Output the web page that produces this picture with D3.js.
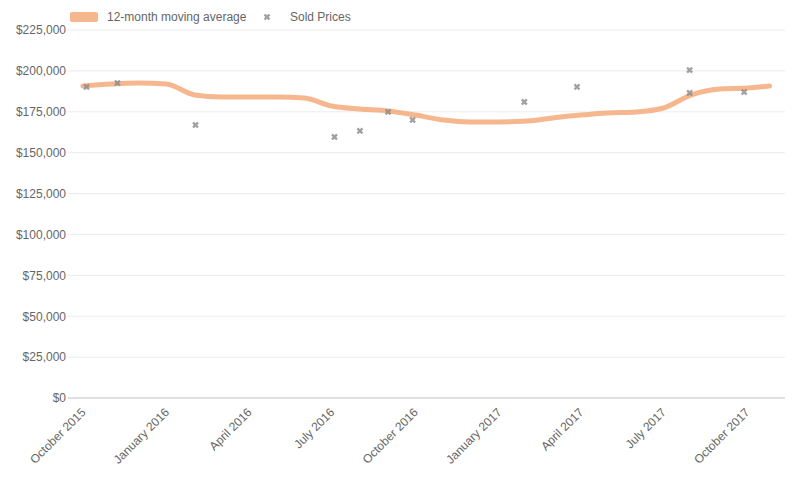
<!DOCTYPE html>
<html>
<head>
<meta charset="utf-8">
<script src="https://cdn.jsdelivr.net/npm/d3@7"></script>
<style>
  html, body { margin: 0; padding: 0; background: #fff; }
  svg { display: block; font-family: "Liberation Sans", Arial, sans-serif; }
</style>
</head>
<body>
<svg id="chart" width="804" height="502"></svg>
<script>
// ---- data ----
const avgDates = ["2015-10-01","2015-11-01","2015-12-01","2016-01-01","2016-02-01","2016-03-01","2016-04-01","2016-05-01","2016-06-01","2016-07-01","2016-08-01","2016-09-01","2016-10-01","2016-11-01","2016-12-01","2017-01-01","2017-02-01","2017-03-01","2017-04-01","2017-05-01","2017-06-01","2017-07-01","2017-08-01","2017-09-01","2017-10-01","2017-10-26"];
const avgValues = [190800,192000,192600,192000,185300,184100,184100,184100,183400,178500,176700,175500,173000,170000,168800,168800,169400,171200,173000,174300,174900,177300,185300,188900,189500,190800];
const saleDates = ["2015-10-05","2015-11-08","2016-02-02","2016-07-04","2016-08-01","2016-09-01","2016-09-28","2017-01-29","2017-03-28","2017-07-30","2017-07-30","2017-09-28"];
const saleValues = [190200,192600,166900,159600,163300,174900,170000,181000,190200,200500,186500,187100];
const yTicks = [0,25000,50000,75000,100000,125000,150000,175000,200000,225000];
const xTickDates = ["2015-10-01","2016-01-01","2016-04-01","2016-07-01","2016-10-01","2017-01-01","2017-04-01","2017-07-01","2017-10-01"];
const xTickLabels = ["October 2015","January 2016","April 2016","July 2016","October 2016","January 2017","April 2017","July 2017","October 2017"];
const xDomain = ["2015-09-08","2017-11-12"];
const seriesNames = ["12-month moving average","Sold Prices"];

// ---- chart ----
const parse = d3.utcParse("%Y-%m-%d");
const svg = d3.select("#chart");
const margin = {top: 30, right: 19, bottom: 104, left: 62};
const W = 804, H = 502;

const x = d3.scaleUtc().domain(xDomain.map(parse)).range([margin.left, W - margin.right]);
const y = d3.scaleLinear().domain([0, 225000]).range([H - margin.bottom, margin.top]);

// grid
svg.append("g").selectAll("line").data(yTicks).join("line")
  .attr("x1", margin.left + 6).attr("x2", W - margin.right)
  .attr("y1", d => y(d)).attr("y2", d => y(d))
  .attr("stroke", d => d === 0 ? "#d6d6d6" : "#ececec")
  .attr("stroke-width", d => d === 0 ? 1.5 : 1);

// y axis labels
const yAxis = d3.axisLeft(y).tickValues(yTicks).tickFormat(d => "$" + d3.format(",")(d)).tickSize(0).tickPadding(0);
const gy = svg.append("g").attr("transform", `translate(${margin.left + 4},0)`).call(yAxis);
gy.select(".domain").remove();
gy.selectAll("text").attr("fill", "#666").style("font-size", "12px").style("font-family", "Liberation Sans, Arial, sans-serif");

// x axis labels
const xAxis = d3.axisBottom(x).tickValues(xTickDates.map(parse))
  .tickFormat((d, i) => xTickLabels[i]).tickSize(0).tickPadding(0);
const gx = svg.append("g").attr("transform", `translate(0,${H - margin.bottom + 12})`).call(xAxis);
gx.select(".domain").remove();
gx.selectAll("text")
  .attr("fill", "#666").style("font-size", "12px").style("font-family", "Liberation Sans, Arial, sans-serif")
  .attr("text-anchor", "end")
  .attr("dy", "0.35em")
  .attr("transform", "rotate(-45)");

// moving average line
const avg = avgDates.map((d, i) => ({date: parse(d), value: avgValues[i]}));
const line = d3.line().x(d => x(d.date)).y(d => y(d.value)).curve(d3.curveMonotoneX);
svg.append("path").datum(avg)
  .attr("d", line)
  .attr("fill", "none")
  .attr("stroke", "#f4aa7a")
  .attr("stroke-opacity", 0.85)
  .attr("stroke-width", 5)
  .attr("stroke-linecap", "round")
  .attr("stroke-linejoin", "round");

// sale points
const sales = saleDates.map((d, i) => ({date: parse(d), value: saleValues[i]}));
const sym = d3.symbol().type(d3.symbolCross).size(28);
svg.append("g").selectAll("path").data(sales).join("path")
  .attr("transform", d => `translate(${x(d.date)},${y(d.value)}) rotate(45)`)
  .attr("d", sym)
  .attr("fill", "#8a8a8a")
  .attr("fill-opacity", 0.8);

// legend
const lg = svg.append("g").attr("transform", "translate(70,17)");
lg.append("rect").attr("x", 0).attr("y", -5).attr("width", 28).attr("height", 10)
  .attr("rx", 2).attr("fill", "#f4aa7a").attr("fill-opacity", 0.85);
lg.append("text").attr("x", 37).attr("y", 0).attr("dy", "0.35em")
  .attr("fill", "#666").style("font-size", "12px").text(seriesNames[0]);
lg.append("path").attr("transform", "translate(197,0) rotate(45)")
  .attr("d", sym).attr("fill", "#8a8a8a").attr("fill-opacity", 0.8);
lg.append("text").attr("x", 220).attr("y", 0).attr("dy", "0.35em")
  .attr("fill", "#666").style("font-size", "12px").text(seriesNames[1]);
</script>
</body>
</html>
